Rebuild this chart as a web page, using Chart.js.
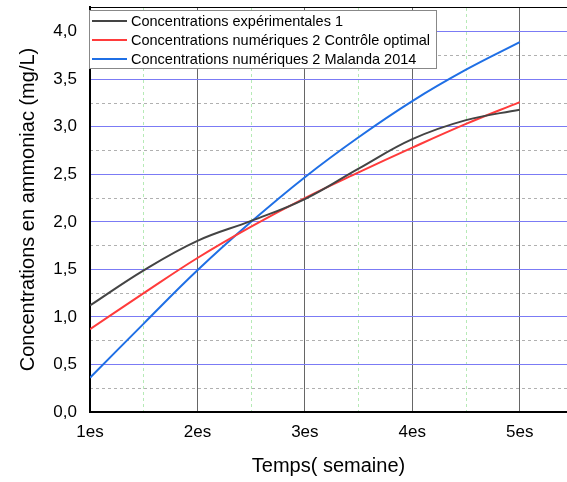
<!DOCTYPE html>
<html>
<head>
<meta charset="utf-8">
<script src="https://cdn.jsdelivr.net/npm/chart.js@4/dist/chart.umd.min.js"></script>
<style>
  body { margin: 0; background: #fff; }
  #wrap { width: 567px; height: 482px; position: relative; }
</style>
</head>
<body>
<div id="wrap"><canvas id="concChart"></canvas></div>
<script>
// weeks, sampled every half week
const weeks = [1, 1.5, 2, 2.5, 3, 3.5, 4, 4.5, 5];
const experimental = [1.12, 1.49, 1.80, 2.01, 2.24, 2.56, 2.87, 3.07, 3.18];
const optimalControl = [0.87, 1.25, 1.62, 1.95, 2.25, 2.52, 2.78, 3.03, 3.26];
const malanda2014 = [0.36, 0.93, 1.49, 2.00, 2.47, 2.89, 3.27, 3.60, 3.89];
const seriesLabels = [
    'Concentrations expérimentales 1',
    'Concentrations numériques 2 Contrôle optimal',
    'Concentrations numériques 2 Malanda 2014'
];
const xTickValues = [1, 2, 3, 4, 5];
const xTickLabels = ['1es', '2es', '3es', '4es', '5es'];
const xMinorValues = [1.5, 2.5, 3.5, 4.5];
const yTickValues = [0, 0.5, 1, 1.5, 2, 2.5, 3, 3.5, 4];
const yTickLabels = ['0,0', '0,5', '1,0', '1,5', '2,0', '2,5', '3,0', '3,5', '4,0'];
const yMinorValues = [0.25, 0.75, 1.25, 1.75, 2.25, 2.75, 3.25, 3.75];

const FONT = '"Liberation Sans", Arial, sans-serif';
const X_MAX = 5.44;
const Y_MAX = 4.26;

function toPoints(values) {
    return weeks.map((w, i) => ({ x: w, y: values[i] }));
}

// legend box drawn inside the plot, top-left
const insideLegend = {
    id: 'insideLegend',
    afterDatasetsDraw(chart) {
        const { ctx, chartArea } = chart;
        const x0 = chartArea.left - 1, y0 = chartArea.top + 3;
        const w = 347, h = 58;
        ctx.save();
        ctx.fillStyle = '#fff';
        ctx.fillRect(x0, y0, w, h);
        ctx.strokeStyle = '#888';
        ctx.lineWidth = 1;
        ctx.strokeRect(x0 + 0.5, y0 + 0.5, w, h);
        ctx.font = '14.5px ' + FONT;
        ctx.textBaseline = 'middle';
        chart.data.datasets.forEach((ds, i) => {
            const cy = y0 + 11 + i * 19;
            ctx.strokeStyle = ds.borderColor;
            ctx.lineWidth = 2;
            ctx.beginPath();
            ctx.moveTo(x0 + 3, cy);
            ctx.lineTo(x0 + 38, cy);
            ctx.stroke();
            ctx.fillStyle = '#000';
            ctx.fillText(ds.label, x0 + 42, cy + 1);
        });
        ctx.restore();
    }
};

const setTicks = values => s => { s.ticks = values.map(v => ({ value: v })); };

new Chart(document.getElementById('concChart'), {
    type: 'line',
    data: {
        datasets: [
            { label: seriesLabels[0], data: toPoints(experimental), borderColor: '#444444' },
            { label: seriesLabels[1], data: toPoints(optimalControl), borderColor: '#ff3b3b' },
            { label: seriesLabels[2], data: toPoints(malanda2014), borderColor: '#1f6fe5' }
        ]
    },
    options: {
        responsive: true,
        maintainAspectRatio: false,
        animation: false,
        layout: { padding: { top: 7, right: 0, left: 0, bottom: 0 } },
        elements: {
            line: { borderWidth: 2, tension: 0.4, fill: false },
            point: { radius: 0 }
        },
        plugins: {
            legend: { display: false },
            tooltip: { enabled: false }
        },
        scales: {
            x: {
                type: 'linear',
                position: 'bottom',
                min: 1,
                max: X_MAX,
                afterBuildTicks: setTicks(xTickValues),
                afterFit: s => { s.height = 70; s.paddingLeft = 0; s.paddingRight = 0; },
                ticks: {
                    color: '#000',
                    padding: 10,
                    font: { family: FONT, size: 17 },
                    callback: v => xTickLabels[xTickValues.indexOf(v)]
                },
                grid: { color: '#666', lineWidth: 1, drawTicks: false },
                border: { color: '#000', width: 2 },
                title: {
                    display: true,
                    text: 'Temps( semaine)',
                    color: '#000',
                    font: { family: FONT, size: 20 },
                    padding: { top: 8 }
                }
            },
            xMinor: {
                type: 'linear',
                position: 'top',
                min: 1,
                max: X_MAX,
                afterBuildTicks: setTicks(xMinorValues),
                afterFit: s => { s.height = 0; },
                ticks: { display: false },
                grid: { drawTicks: false, color: '#b6eab6' },
                border: { display: true, color: '#000', width: 1, dash: [3, 3] }
            },
            y: {
                type: 'linear',
                position: 'left',
                min: 0,
                max: Y_MAX,
                afterBuildTicks: setTicks(yTickValues),
                afterFit: s => { s.width = 90; s.paddingTop = 0; s.paddingBottom = 0; },
                ticks: {
                    color: '#000',
                    padding: 13,
                    font: { family: FONT, size: 17 },
                    callback: v => yTickLabels[yTickValues.indexOf(v)]
                },
                grid: { color: '#7b7bf5', lineWidth: 1, drawTicks: false },
                border: { color: '#000', width: 2 },
                title: {
                    display: true,
                    text: 'Concentrations en ammoniac (mg/L)',
                    color: '#000',
                    font: { family: FONT, size: 20 },
                    padding: { top: 16, bottom: 4 }
                }
            },
            yMinor: {
                type: 'linear',
                position: 'right',
                min: 0,
                max: Y_MAX,
                afterBuildTicks: setTicks(yMinorValues),
                afterFit: s => { s.width = 0; s.paddingTop = 0; s.paddingBottom = 0; },
                ticks: { display: false },
                grid: { drawTicks: false, color: '#b0b0b0' },
                border: { display: false, dash: [3, 3] }
            }
        }
    },
    plugins: [insideLegend]
});
</script>
</body>
</html>
